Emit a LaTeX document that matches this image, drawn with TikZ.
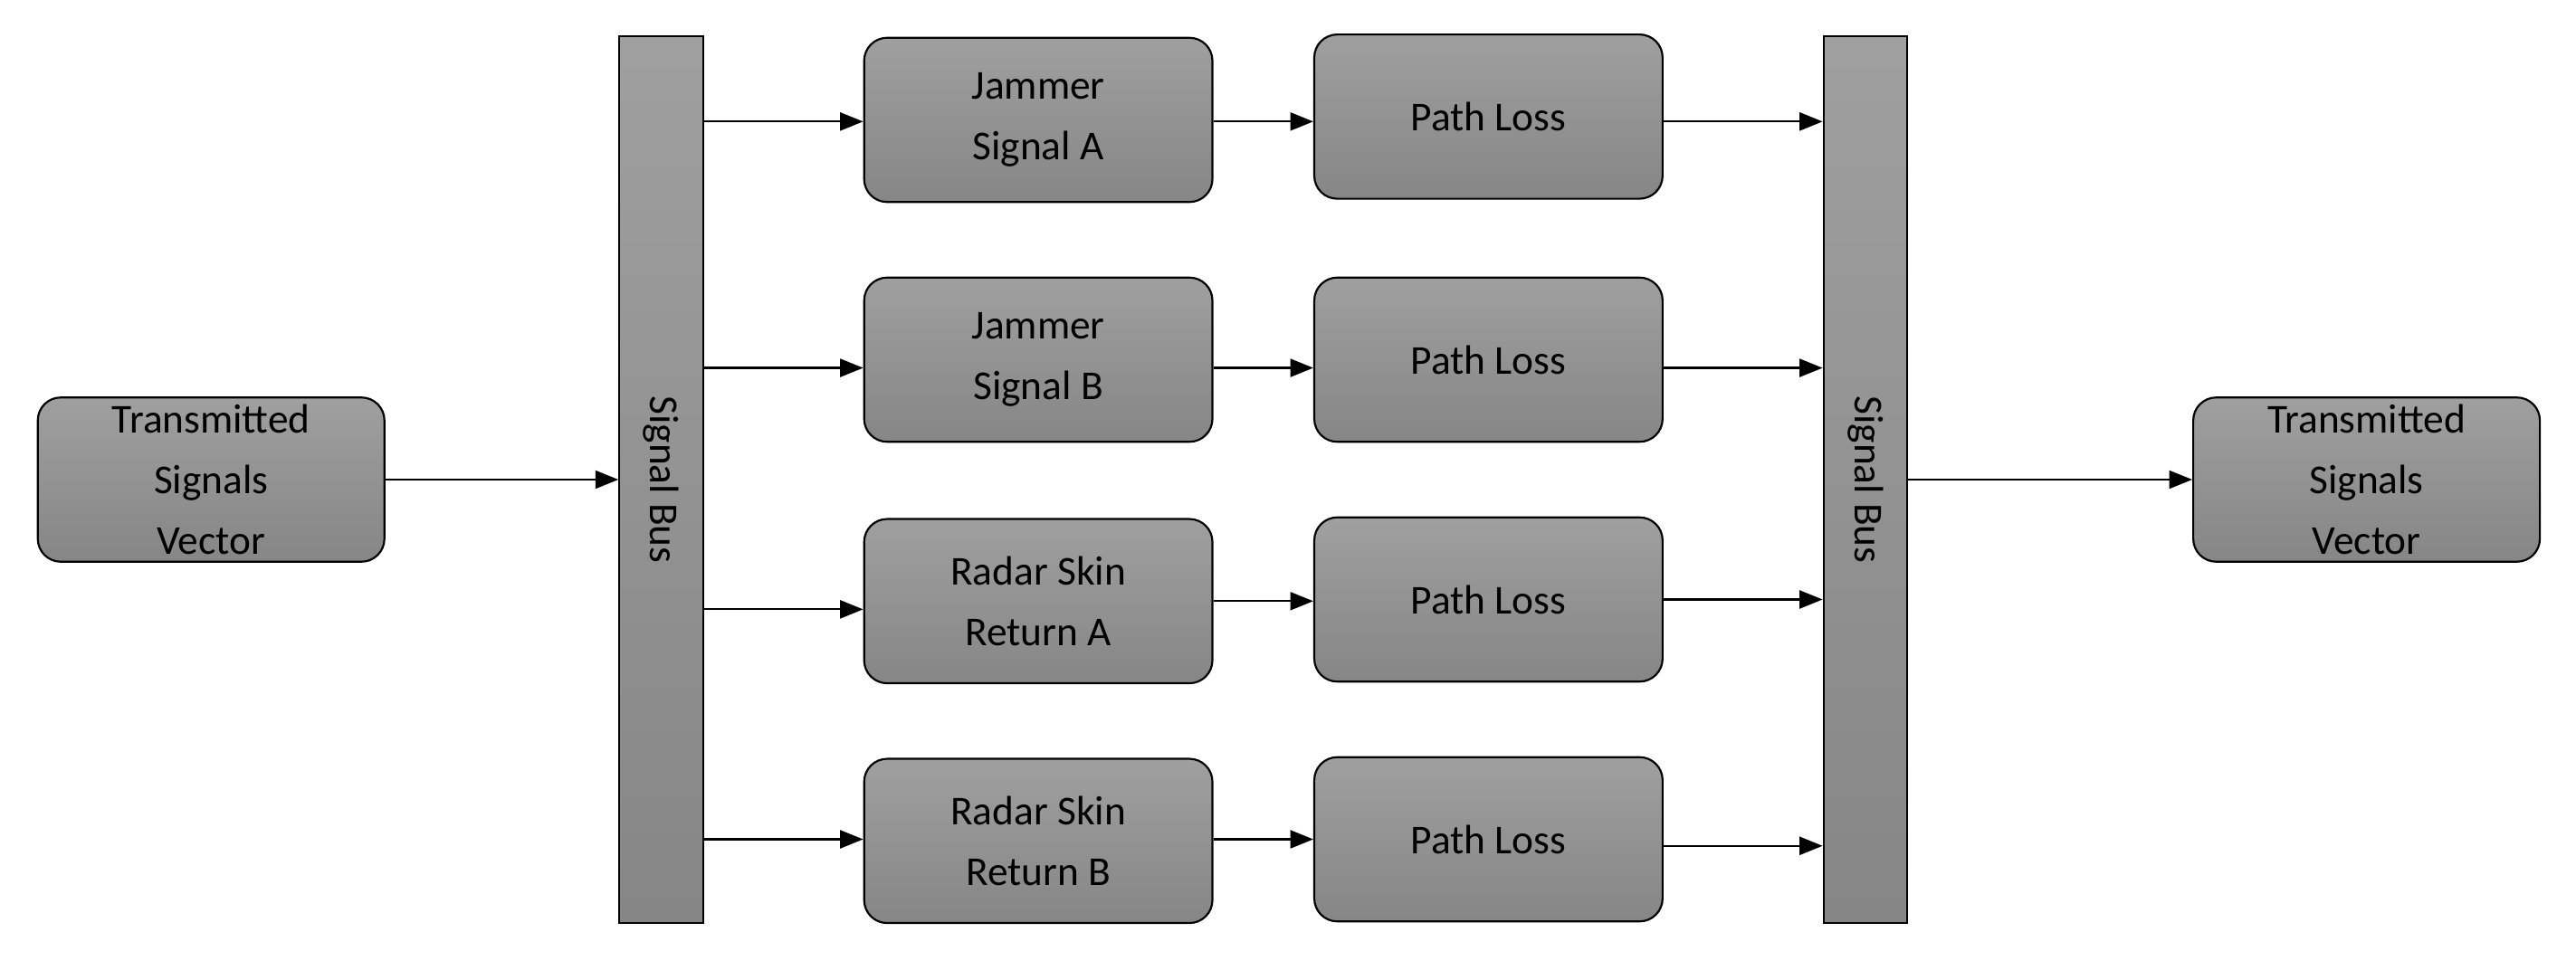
\documentclass[tikz,border=0pt]{standalone}
\usepackage{fontspec}
\setmainfont{Carlito}
\usetikzlibrary{arrows.meta}
\begin{document}
\begin{tikzpicture}[x=1pt,y=-1pt,
  box/.style={draw=black,line width=1.2pt,rounded corners=14pt,top color=gray!75,bottom color=gray!105!black,minimum width=212pt,minimum height=100pt,align=center,font=\fontsize{25}{37}\selectfont,inner sep=0pt},
  bus/.style={draw=black,line width=1.2pt,top color=gray!75,bottom color=gray!105!black,minimum width=51pt,minimum height=540pt,inner sep=0pt},
  arr/.style={-{Triangle[length=14pt,width=11pt]},line width=1.2pt}]
\useasboundingbox (0,0) rectangle (1568,585);
\node[box,minimum width=211pt] (tl) at (128.5,292) {Transmitted\\Signals\\Vector};
\node[bus] (b1) at (402.5,292) {};
\node[rotate=-90,font=\fontsize{25}{30}\selectfont] at (b1) {Signal Bus};
\node[bus] (b2) at (1135.5,292) {};
\node[rotate=-90,font=\fontsize{25}{30}\selectfont] at (b2) {Signal Bus};
\node[box,minimum width=211pt] (tr) at (1440.5,292) {Transmitted\\Signals\\Vector};
\node[box] (s1) at (632,73) {Jammer\\Signal A};
\node[box] (p1) at (906,71) {Path Loss};
\node[box] (s2) at (632,219) {Jammer\\Signal B};
\node[box] (p2) at (906,219) {Path Loss};
\node[box] (s3) at (632,366) {Radar Skin\\Return A};
\node[box] (p3) at (906,365) {Path Loss};
\node[box] (s4) at (632,512) {Radar Skin\\Return B};
\node[box] (p4) at (906,511) {Path Loss};
\draw[arr] (tl.east) -- (b1.west|-tl.east);
\draw[arr] (b2.east|-tr.west) -- (tr.west);
\draw[arr] (b1.east|-0,74) -- (s1.west|-0,74);
\draw[arr] (b1.east|-0,224) -- (s2.west|-0,224);
\draw[arr] (b1.east|-0,371) -- (s3.west|-0,371);
\draw[arr] (b1.east|-0,511) -- (s4.west|-0,511);
\draw[arr] (s1.east|-0,74) -- (p1.west|-0,74);
\draw[arr] (s2.east|-0,224) -- (p2.west|-0,224);
\draw[arr] (s3.east|-0,366) -- (p3.west|-0,366);
\draw[arr] (s4.east|-0,511) -- (p4.west|-0,511);
\draw[arr] (p1.east|-0,74) -- (b2.west|-0,74);
\draw[arr] (p2.east|-0,224) -- (b2.west|-0,224);
\draw[arr] (p3.east|-0,365) -- (b2.west|-0,365);
\draw[arr] (p4.east|-0,515) -- (b2.west|-0,515);
\end{tikzpicture}
\end{document}
